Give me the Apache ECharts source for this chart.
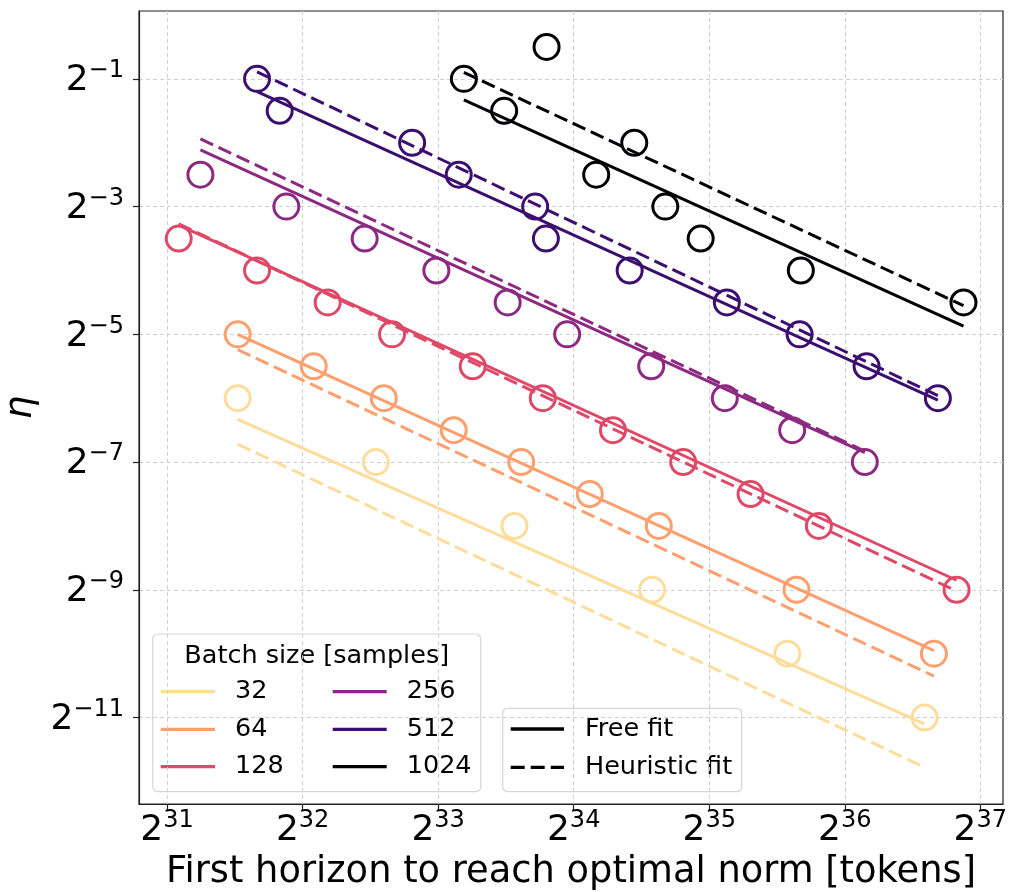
<!DOCTYPE html>
<html><head><meta charset="utf-8">
<script src="https://cdn.jsdelivr.net/npm/echarts@6/dist/echarts.min.js"></script>
<style>html,body{margin:0;padding:0;background:#fff}#chart{width:1010px;height:892px}</style>
</head><body><div id="chart"></div>
<script>
// ---------- data (stored as log2 exponents) ----------
const xTickExponents = [31, 32, 33, 34, 35, 36, 37];
const yTickExponents = [-11, -9, -7, -5, -3, -1];
const batchSizes = ['32', '64', '128', '256', '512', '1024'];

// log2(first horizon [tokens]) and log2(eta) per batch size
const horizon32 = [31.521, 32.54, 33.563, 34.579, 35.576, 36.589];
const eta32 = [-6, -7, -8, -9, -10, -11];
const horizon64 = [31.521, 32.082, 32.599, 33.115, 33.613, 34.119, 34.628, 35.644, 36.658];
const eta64 = [-5, -5.5, -6, -6.5, -7, -7.5, -8, -9, -10];
const horizon128 = [31.086, 31.664, 32.185, 32.66, 33.255, 33.772, 34.29, 34.808, 35.305, 35.809, 36.825];
const eta128 = [-3.5, -4, -4.5, -5, -5.5, -6, -6.5, -7, -7.5, -8, -9];
const horizon256 = [31.246, 31.88, 32.458, 32.987, 33.513, 33.952, 34.572, 35.115, 35.612, 36.148];
const eta256 = [-2.5, -3, -3.5, -4, -4.5, -5, -5.5, -6, -6.5, -7];
const horizon512 = [31.664, 31.831, 32.808, 33.152, 33.716, 33.795, 34.413, 35.13, 35.667, 36.161, 36.687];
const eta512 = [-1, -1.5, -2, -2.5, -3, -3.5, -4, -4.5, -5, -5.5, -6];
const horizon1024 = [33.19, 33.8, 33.487, 34.447, 34.166, 34.676, 34.937, 35.676, 36.876];
const eta1024 = [-1, -0.5, -1.5, -2, -2.5, -3, -3.5, -4, -4.5];

// fit line end points [log2 horizon, log2 eta]
const freeFit32 = [[31.521, -6.33], [36.589, -11.10]];
const heurFit32 = [[31.521, -6.72], [36.589, -11.78]];
const freeFit64 = [[31.521, -5.00], [36.658, -9.95]];
const heurFit64 = [[31.521, -5.24], [36.658, -10.35]];
const freeFit128 = [[31.086, -3.29], [36.825, -8.85]];
const heurFit128 = [[31.086, -3.27], [36.825, -9.02]];
const freeFit256 = [[31.246, -2.11], [36.148, -6.85]];
const heurFit256 = [[31.246, -1.94], [36.148, -6.83]];
const freeFit512 = [[31.664, -1.20], [36.687, -6.03]];
const heurFit512 = [[31.664, -0.89], [36.687, -5.96]];
const freeFit1024 = [[33.19, -1.33], [36.876, -4.87]];
const heurFit1024 = [[33.19, -0.90], [36.876, -4.55]];

// ---------- styling ----------
const colors = ['#fedc9c', '#fe9f6d', '#de4968', '#8c2981', '#3b0f70', '#000004'];
const FONT = 'DejaVu Sans';
const DASH = [14, 6];
const pow2 = e => Math.pow(2, e);

const groups = [
  [horizon32, eta32, freeFit32, heurFit32],
  [horizon64, eta64, freeFit64, heurFit64],
  [horizon128, eta128, freeFit128, heurFit128],
  [horizon256, eta256, freeFit256, heurFit256],
  [horizon512, eta512, freeFit512, heurFit512],
  [horizon1024, eta1024, freeFit1024, heurFit1024]
];

const series = [];
groups.forEach((g, i) => {
  const c = colors[i];
  series.push({
    type: 'scatter', name: batchSizes[i],
    data: g[0].map((x, k) => [pow2(x), pow2(g[1][k])]),
    symbol: 'circle', symbolSize: 25,
    itemStyle: { color: 'rgba(0,0,0,0)', borderColor: c, borderWidth: 3, opacity: 1 },
    silent: true
  });
  series.push({
    type: 'line', name: batchSizes[i] + ' free',
    data: g[2].map(p => [pow2(p[0]), pow2(p[1])]),
    symbol: 'none', showSymbol: false, silent: true,
    lineStyle: { color: c, width: 3, type: 'solid', cap: 'butt' }
  });
  series.push({
    type: 'line', name: batchSizes[i] + ' heuristic',
    data: g[3].map(p => [pow2(p[0]), pow2(p[1])]),
    symbol: 'none', showSymbol: false, silent: true,
    lineStyle: { color: c, width: 3, type: DASH, cap: 'butt' }
  });
});

const rich = {
  b: { fontSize: 36, fontFamily: FONT, color: '#000', lineHeight: 40, verticalAlign: 'bottom' },
  s: { fontSize: 24, fontFamily: FONT, color: '#000', lineHeight: 24, verticalAlign: 'top' }
};
const expLabel = v => {
  const n = Math.round(Math.log2(v));
  const t = n < 0 ? '\u2212' + Math.abs(n) : String(n);
  return '{b|2}{s|' + t + '}';
};

const axisCommon = {
  type: 'log', logBase: 2,
  axisLine: { show: true, onZero: false, lineStyle: { color: '#222', width: 1.2 } },
  axisTick: { show: true, length: 6, lineStyle: { color: '#222', width: 1.2 } },
  minorTick: { show: false },
  splitLine: { show: true, lineStyle: { color: '#d0d0d0', width: 1, type: [4, 3] } },
  minorSplitLine: { show: false }
};

// legend graphics
const LFONT = '25.5px "DejaVu Sans"';
const legendItems = [];
const col1 = [160.7, 215, 235], col2 = [332.7, 386.7, 406.7];
const rowsY = [691.7, 729.3, 766.7];
batchSizes.forEach((b, i) => {
  const col = i < 3 ? col1 : col2;
  const y = rowsY[i % 3];
  legendItems.push({ type: 'line', shape: { x1: col[0], y1: y, x2: col[1], y2: y }, style: { stroke: colors[i], lineWidth: 3.3 } });
  legendItems.push({ type: 'text', x: col[2], y: y, style: { text: b, font: LFONT, fill: '#000', verticalAlign: 'middle' } });
});

const option = {
  animation: false,
  backgroundColor: '#fff',
  grid: { left: 139, top: 11, width: 864, height: 793, show: true, borderColor: '#222', borderWidth: 1.2, containLabel: false, outerBoundsMode: 'none' },
  xAxis: Object.assign({}, axisCommon, {
    min: pow2(30.793), max: pow2(37.1675),
    axisTick: Object.assign({}, axisCommon.axisTick, { customValues: xTickExponents.map(pow2) }),
    axisLabel: { customValues: xTickExponents.map(pow2), margin: 5, formatter: expLabel, rich: rich },
    name: 'First horizon to reach optimal norm [tokens]', nameLocation: 'middle', nameGap: 47,
    nameTextStyle: { fontSize: 36.8, fontFamily: FONT, color: '#000' }
  }),
  yAxis: Object.assign({}, axisCommon, {
    min: pow2(-12.353), max: pow2(0.0625),
    axisTick: Object.assign({}, axisCommon.axisTick, { customValues: yTickExponents.map(pow2) }),
    axisLabel: { customValues: yTickExponents.map(pow2), margin: 15, formatter: expLabel, rich: rich },
    name: 'η', nameLocation: 'middle', nameGap: 92,
    nameTextStyle: { fontSize: 37, fontFamily: FONT, fontStyle: 'italic', color: '#000' }
  }),
  series: series,
  graphic: [
    { type: 'group', z: 100, children: [
      { type: 'rect', shape: { x: 152.7, y: 634, width: 328, height: 157.7, r: 5 }, style: { fill: 'rgba(255,255,255,0.8)', stroke: '#d6d6d6', lineWidth: 1.2 } },
      { type: 'text', x: 316.7, y: 656, style: { text: 'Batch size [samples]', font: LFONT, fill: '#000', align: 'center', verticalAlign: 'middle' } }
    ].concat(legendItems) },
    { type: 'group', z: 100, children: [
      { type: 'rect', shape: { x: 502.7, y: 708.3, width: 239, height: 83.4, r: 5 }, style: { fill: 'rgba(255,255,255,0.8)', stroke: '#d6d6d6', lineWidth: 1.2 } },
      { type: 'line', shape: { x1: 510.7, y1: 729, x2: 564, y2: 729 }, style: { stroke: '#000', lineWidth: 3.3 } },
      { type: 'line', shape: { x1: 510.7, y1: 767.3, x2: 564, y2: 767.3 }, style: { stroke: '#000', lineWidth: 3.3, lineDash: DASH } },
      { type: 'text', x: 585, y: 729, style: { text: 'Free fit', font: LFONT, fill: '#000', verticalAlign: 'middle' } },
      { type: 'text', x: 585, y: 767.3, style: { text: 'Heuristic fit', font: LFONT, fill: '#000', verticalAlign: 'middle' } }
    ] }
  ]
};

const chart = echarts.init(document.getElementById('chart'), null, { renderer: 'canvas' });
chart.setOption(option);
</script>
</body></html>
